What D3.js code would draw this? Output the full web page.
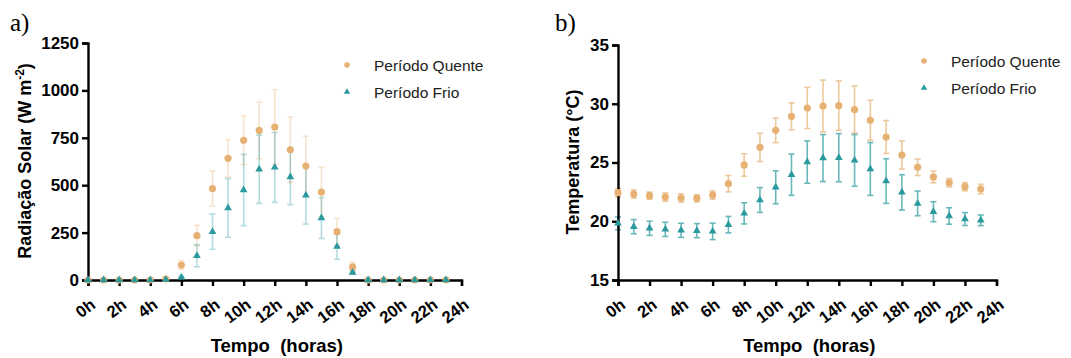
<!DOCTYPE html>
<html><head><meta charset="utf-8">
<script src="https://cdn.jsdelivr.net/npm/d3@7"></script>
<style>body{margin:0;background:#fff}svg{display:block}</style>
</head><body>
<svg id="c" width="1071" height="358"></svg>
<script>
const hours = d3.range(24);
const xTicks = d3.range(0, 25, 2);
const xTickLabels = xTicks.map(h => h + "h");
const seriesNames = ["Período Quente", "Período Frio"];

// Panel a: Radiação Solar (W m-2)
const radQuente = [0,0,0,0,0,5,79,234,482,642,737,789,807,687,601,464,255,69,0,0,0,0,0,0];
const radQuenteErr = [0,0,0,0,0,3,23,54,92,98,128,150,197,172,157,130,70,24,0,0,0,0,0,0];
const radFrio = [0,0,0,0,0,2,14,128,255,380,475,584,594,543,447,327,176,40,0,0,0,0,0,0];
const radFrioErr = [0,0,0,0,0,2,6,58,93,155,188,180,184,146,152,108,67,10,0,0,0,0,0,0];
const radTicks = [0,250,500,750,1000,1250];

// Panel b: Temperatura (°C)
const tQuente = [22.43,22.32,22.18,22.06,21.98,21.95,22.23,23.2,24.79,26.29,27.74,28.93,29.64,29.81,29.84,29.5,28.59,27.17,25.64,24.59,23.77,23.28,22.94,22.74];
const tQuenteErr = [0.35,0.35,0.3,0.35,0.35,0.3,0.35,0.7,0.95,1.2,1.05,1.15,1.75,2.2,2.1,2.0,1.7,1.4,1.2,0.7,0.5,0.35,0.35,0.4];
const tFrio = [19.82,19.54,19.4,19.31,19.23,19.2,19.14,19.71,20.67,21.81,22.89,23.96,25.04,25.38,25.41,25.18,24.45,23.42,22.46,21.52,20.81,20.45,20.19,20.08];
const tFrioErr = [0.55,0.6,0.6,0.6,0.6,0.6,0.7,0.7,0.9,1.05,1.4,1.75,1.8,2.0,2.05,2.2,2.25,1.9,1.5,1.05,0.85,0.7,0.55,0.45];
const tTicks = [15,20,25,30,35];

const cQ = "#E6B173", cF = "#2A9A9F";
const svg = d3.select("#c");

function panel(o){
  const g = svg.append("g");
  const x = d3.scaleLinear().domain([0,24]).range([o.x0, o.x1]);
  const y = d3.scaleLinear().domain(o.ydom).range([280, o.ytop]);
  g.append("text").attr("x", o.lx).attr("y", 31).attr("font-family","Liberation Serif, Times New Roman, serif")
    .attr("font-size", 25).attr("fill","#000").text(o.letter);
  const series = [
    {v:o.q, e:o.qe, c:cQ, k:"q"},
    {v:o.f, e:o.fe, c:cF, k:"f"}
  ];
  series.forEach(s => {
    const eg = g.append("g").attr("stroke", s.c).attr("stroke-width", 1.6).attr("opacity", o.errOp);
    hours.forEach(h => {
      if (s.e[h] <= 0) return;
      const xx = x(h), yt = y(s.v[h] + s.e[h]), yb = y(s.v[h] - s.e[h]);
      eg.append("line").attr("x1",xx).attr("x2",xx).attr("y1",yt).attr("y2",yb);
      eg.append("line").attr("x1",xx-3).attr("x2",xx+3).attr("y1",yt).attr("y2",yt);
      eg.append("line").attr("x1",xx-3).attr("x2",xx+3).attr("y1",yb).attr("y2",yb);
    });
  });
  const ya = d3.axisLeft(y).tickValues(o.yticks).tickSize(6).tickPadding(3).tickFormat(d3.format("d"));
  const yg = g.append("g").attr("transform", `translate(${o.x0},0)`).call(ya);
  yg.selectAll("path").attr("stroke","#000").attr("stroke-width",2.4);
  yg.selectAll("line").attr("stroke","#000").attr("stroke-width",2.4);
  yg.selectAll("text").attr("font-family","Liberation Sans, Arial, sans-serif").attr("font-weight","bold").attr("font-size",17).attr("fill","#000");
  const xa = d3.axisBottom(x).tickValues(xTicks).tickSize(6).tickFormat((d,i) => xTickLabels[i]);
  const xg = g.append("g").attr("transform", `translate(0,280)`).call(xa);
  xg.selectAll("path").attr("stroke","#000").attr("stroke-width",2.4);
  xg.selectAll("line").attr("stroke","#000").attr("stroke-width",2.4);
  xg.selectAll("text").attr("font-family","Liberation Sans, Arial, sans-serif").attr("font-weight","bold").attr("font-size",16.5).attr("fill","#000")
    .attr("text-anchor","end").attr("dy",0).attr("y",0)
    .attr("transform","translate(8,27) rotate(-37)");
  series.forEach(s => {
    const pg = g.append("g").attr("fill", s.c);
    hours.forEach(h => {
      if (s.k === "q") pg.append("circle").attr("cx", x(h)).attr("cy", y(s.v[h])).attr("r", 3.6);
      else pg.append("path").attr("d", d3.symbol(d3.symbolTriangle, 26)()).attr("transform", `translate(${x(h)},${y(s.v[h])})`);
    });
  });
  const lg = g.append("g").attr("font-family","Liberation Sans, Arial, sans-serif").attr("font-size",15.5).attr("fill","#222");
  lg.append("circle").attr("cx", o.legx).attr("cy", o.legy).attr("r", 2.8).attr("fill", cQ);
  lg.append("path").attr("d", d3.symbol(d3.symbolTriangle, 18)()).attr("transform", `translate(${o.legx},${o.legy+27})`).attr("fill", cF);
  lg.append("text").attr("x", o.legx+27).attr("y", o.legy+5.5).text(seriesNames[0]);
  lg.append("text").attr("x", o.legx+27).attr("y", o.legy+32.5).text(seriesNames[1]);
  g.append("text").attr("x", (o.x0+o.x1)/2+2).attr("y", 352).attr("text-anchor","middle")
    .attr("font-family","Liberation Sans, Arial, sans-serif").attr("font-weight","bold").attr("font-size",18.5).attr("fill","#000")
    .attr("xml:space","preserve").text("Tempo  (horas)");
  const yt = g.append("text").attr("transform", `translate(${o.ytx},${o.yty}) rotate(-90)`).attr("text-anchor","middle")
    .attr("font-family","Liberation Sans, Arial, sans-serif").attr("font-weight","bold").attr("font-size",18).attr("fill","#000");
  o.ytitle(yt);
}

panel({letter:"a)", lx:10, x0:88, x1:461.5, ydom:[0,1250], ytop:43, yticks:radTicks,
  q:radQuente, qe:radQuenteErr, f:radFrio, fe:radFrioErr, errOp:0.35, legx:347, legy:65, ytx:31, yty:161,
  ytitle: t => { t.append("tspan").text("Radiação Solar (W m"); t.append("tspan").attr("dy",-7).attr("font-size",12).text("-2"); t.append("tspan").attr("dy",7).text(")"); }
});
panel({letter:"b)", lx:555, x0:618, x1:996.5, ydom:[15,35], ytop:45, yticks:tTicks,
  q:tQuente, qe:tQuenteErr, f:tFrio, fe:tFrioErr, errOp:0.7, legx:924, legy:61, ytx:579, yty:162,
  ytitle: t => { t.text("Temperatura (°C)"); }
});
</script>
</body></html>
